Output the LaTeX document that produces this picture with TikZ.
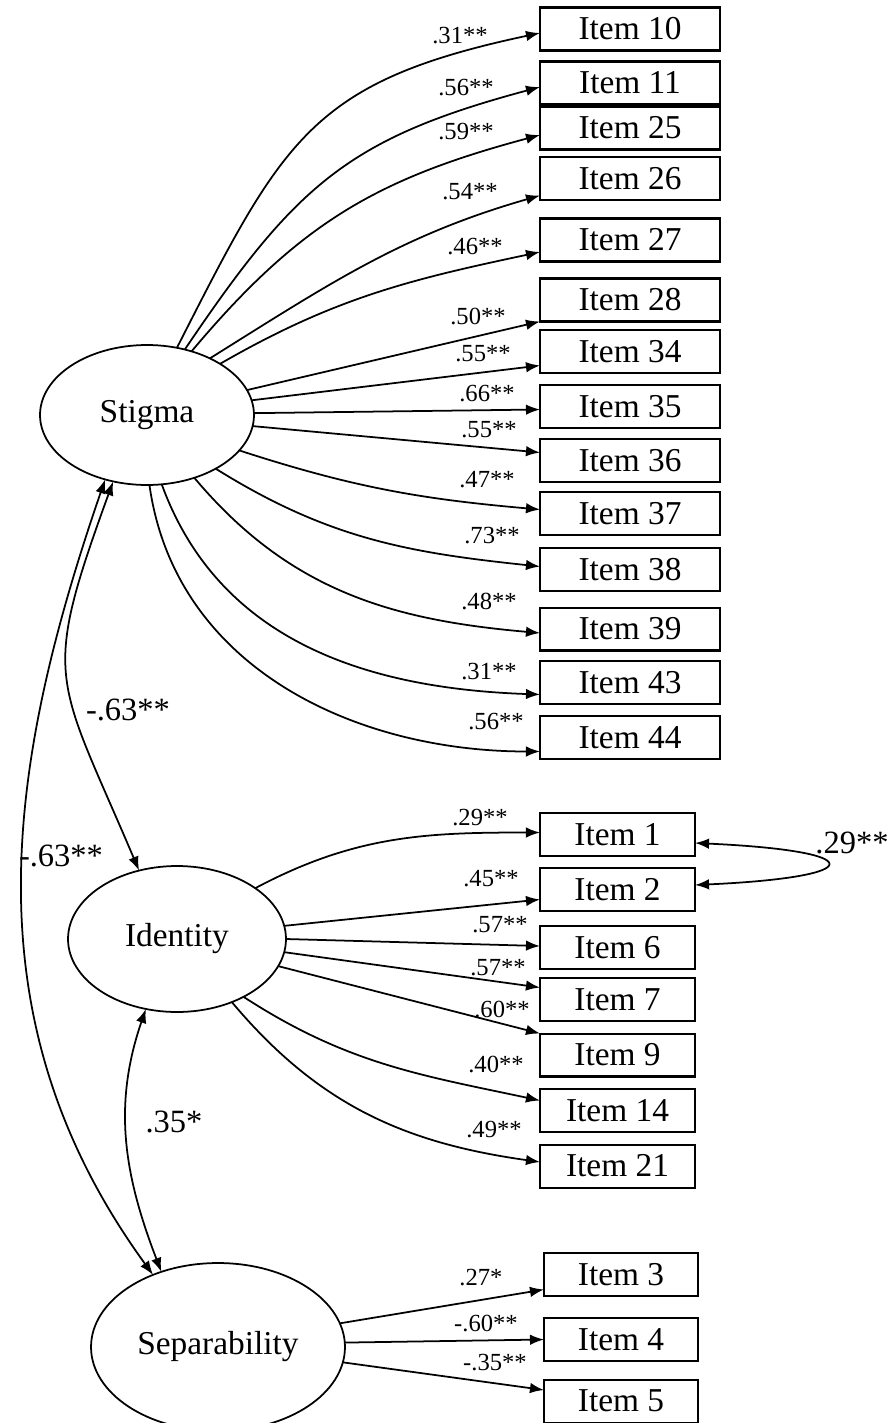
\documentclass[tikz,border=0pt]{standalone}
\usepackage{fontspec}
\setmainfont{Liberation Serif}
\usepackage{tikz}
\usetikzlibrary{shapes.geometric, arrows.meta, positioning, calc}

\tikzset{
  latent/.style={ellipse, draw, line width=1pt, inner sep=0pt, outer sep=0pt, font=\fontsize{19}{22}\selectfont},
  item/.style={rectangle, draw, line width=1.15pt, minimum width=#1, minimum height=0.86cm, inner sep=0pt, outer sep=0pt, font=\fontsize{19}{22}\selectfont},
  load/.style={-{Latex[length=8pt,width=6pt]}, line width=1pt},
  cov/.style={{Latex[length=8pt,width=6pt]}-{Latex[length=8pt,width=6pt]}, line width=1pt},
  wt/.style={font=\fontsize{14}{16}\selectfont, inner sep=0pt},
  corr/.style={font=\fontsize{18.5}{20}\selectfont, inner sep=0pt}
}

\begin{document}
\begin{tikzpicture}[x=0.02cm, y=0.02cm]
        \useasboundingbox (0,0) rectangle (890,-1423);
        % Latent factors
        \node[latent, minimum width=4.28cm, minimum height=2.8cm] (stigma) at (147,-415) {Stigma};
        \node[latent, minimum width=4.36cm, minimum height=2.92cm] (identity) at (177,-939) {Identity};
        \node[latent, minimum width=5.08cm, minimum height=3.36cm] (separ) at (218,-1347) {Separability};
        % Stigma items
        \node[item=3.6cm] (i10) at (630,-29) {Item 10};
        \node[item=3.6cm] (i11) at (630,-83) {Item 11};
        \node[item=3.6cm] (i25) at (630,-128) {Item 25};
        \node[item=3.6cm] (i26) at (630,-178.5) {Item 26};
        \node[item=3.6cm] (i27) at (630,-240) {Item 27};
        \node[item=3.6cm] (i28) at (630,-300) {Item 28};
        \node[item=3.6cm] (i34) at (630,-351.5) {Item 34};
        \node[item=3.6cm] (i35) at (630,-406.5) {Item 35};
        \node[item=3.6cm] (i36) at (630,-460.5) {Item 36};
        \node[item=3.6cm] (i37) at (630,-513.5) {Item 37};
        \node[item=3.6cm] (i38) at (630,-569.5) {Item 38};
        \node[item=3.6cm] (i39) at (630,-629) {Item 39};
        \node[item=3.6cm] (i43) at (630,-682.5) {Item 43};
        \node[item=3.6cm] (i44) at (630,-737.5) {Item 44};
        % Identity items
        \node[item=3.1cm] (i1) at (617.5,-834.5) {Item 1};
        \node[item=3.1cm] (i2) at (617.5,-889.5) {Item 2};
        \node[item=3.1cm] (i6) at (617.5,-947.5) {Item 6};
        \node[item=3.1cm] (i7) at (617.5,-999.5) {Item 7};
        \node[item=3.1cm] (i9) at (617.5,-1055) {Item 9};
        \node[item=3.1cm] (i14) at (617.5,-1110.5) {Item 14};
        \node[item=3.1cm] (i21) at (617.5,-1166) {Item 21};
        % Separability items
        \node[item=3.08cm] (i3) at (621,-1274.5) {Item 3};
        \node[item=3.08cm] (i4) at (621,-1339.5) {Item 4};
        \node[item=3.08cm] (i5) at (621,-1401) {Item 5};
        % Stigma loadings
        \draw[load] (stigma.66) to[out=63, in=192, looseness=1.25] ([yshift=-0.08cm]i10.west);
        \draw[load] (stigma.60) to[out=56, in=195, looseness=1.15] ([yshift=-0.08cm]i11.west);
        \draw[load] (stigma.55) to[out=50, in=195, looseness=1.05] ([yshift=-0.14cm]i25.west);
        \draw[load] (stigma.42) to[out=32, in=196] ([yshift=-0.34cm]i26.west);
        \draw[load] (stigma.35) to[out=30, in=192] ([yshift=-0.24cm]i27.west);
        \draw[load] (stigma.14) -- (i28.south west);
        \draw[load] (stigma.8) -- ([yshift=-0.28cm]i34.west);
        \draw[load] (stigma.1) -- ([yshift=-0.06cm]i35.west);
        \draw[load] (stigma.-6) -- ([yshift=0.16cm]i36.west);
        \draw[load] (stigma.-21) to[out=-18, in=175] ([yshift=0.08cm]i37.west);
        \draw[load] (stigma.-38) to[out=-32, in=174] ([yshift=0.06cm]i38.west);
        \draw[load] (stigma.-53) to[out=-50, in=175] ([yshift=-0.08cm]i39.west);
        \draw[load] (stigma.-78) to[out=-70, in=178] ([yshift=-0.24cm]i43.west);
        \draw[load] (stigma.-88) to[out=-82, in=180] ([yshift=-0.28cm]i44.west);
        \node[wt] (l10) at (460,-36) {.31**};
        \node[wt] (l11) at (466,-88) {.56**};
        \node[wt] (l25) at (466,-132) {.59**};
        \node[wt] (l26) at (470,-192) {.54**};
        \node[wt] (l27) at (475,-247) {.46**};
        \node[wt] (l28) at (478,-316) {.50**};
        \node[wt] (l34) at (483,-354) {.55**};
        \node[wt] (l35) at (487,-394) {.66**};
        \node[wt] (l36) at (489,-430) {.55**};
        \node[wt] (l37) at (487,-480) {.47**};
        \node[wt] (l38) at (492,-536) {.73**};
        \node[wt] (l39) at (489,-601) {.48**};
        \node[wt] (l43) at (489,-672) {.31**};
        \node[wt] (l44) at (496,-722) {.56**};
        % Identity loadings
        \draw[load] (identity.33) to[out=28, in=180] ([yshift=0.04cm]i1.west);
        \draw[load] (identity.7) -- ([yshift=-0.2cm]i2.west);
        \draw[load] (identity.0) -- ([yshift=0.03cm]i6.west);
        \draw[load] (identity.-7) -- ([yshift=0.24cm]i7.west);
        \draw[load] (identity.-15) -- (i9.north west);
        \draw[load] (identity.-41) to[out=-33, in=168] ([yshift=0.2cm]i14.west);
        \draw[load] (identity.-49) to[out=-50, in=172] ([yshift=0.08cm]i21.west);
        \node[wt] (l1) at (480,-818) {.29**};
        \node[wt] (l2) at (491,-879) {.45**};
        \node[wt] (l6) at (500,-925) {.57**};
        \node[wt] (l7) at (498,-968) {.57**};
        \node[wt] (l9) at (502,-1009) {.60**};
        \node[wt] (l14) at (496,-1064) {.40**};
        \node[wt] (l21) at (494,-1130) {.49**};
        % Separability loadings
        \draw[load] (separ.11) -- ([yshift=-0.3cm]i3.west);
        \draw[load] (separ.2) -- (i4.west);
        \draw[load] (separ.-7) -- ([yshift=0.22cm]i5.west);
        \node[wt] (l3) at (481,-1278) {.27*};
        \node[wt] (l4) at (486,-1323) {-.60**};
        \node[wt] (l5) at (495,-1363) {-.35**};
        % Factor covariances
        \draw[cov] (stigma.-117) to[out=-110, in=113, looseness=1.4] (identity.119);
        \draw[cov] (stigma.-123) to[out=-109, in=126] (separ.132);
        \draw[cov] (identity.-114) to[out=-109, in=111] (separ.127);
        \node[corr] (c1) at (128,-710) {-.63**};
        \node[corr] (c2) at (61,-856) {-.63**};
        \node[corr] (c3) at (174,-1122) {.35*};
        % Error covariance
        \draw[cov] ([yshift=-0.17cm]i1.east) .. controls +(175,-8) and +(175,8) .. ([yshift=0.09cm]i2.east);
        \node[corr] (c4) at (852,-843) {.29**};
    \end{tikzpicture}
\end{document}
